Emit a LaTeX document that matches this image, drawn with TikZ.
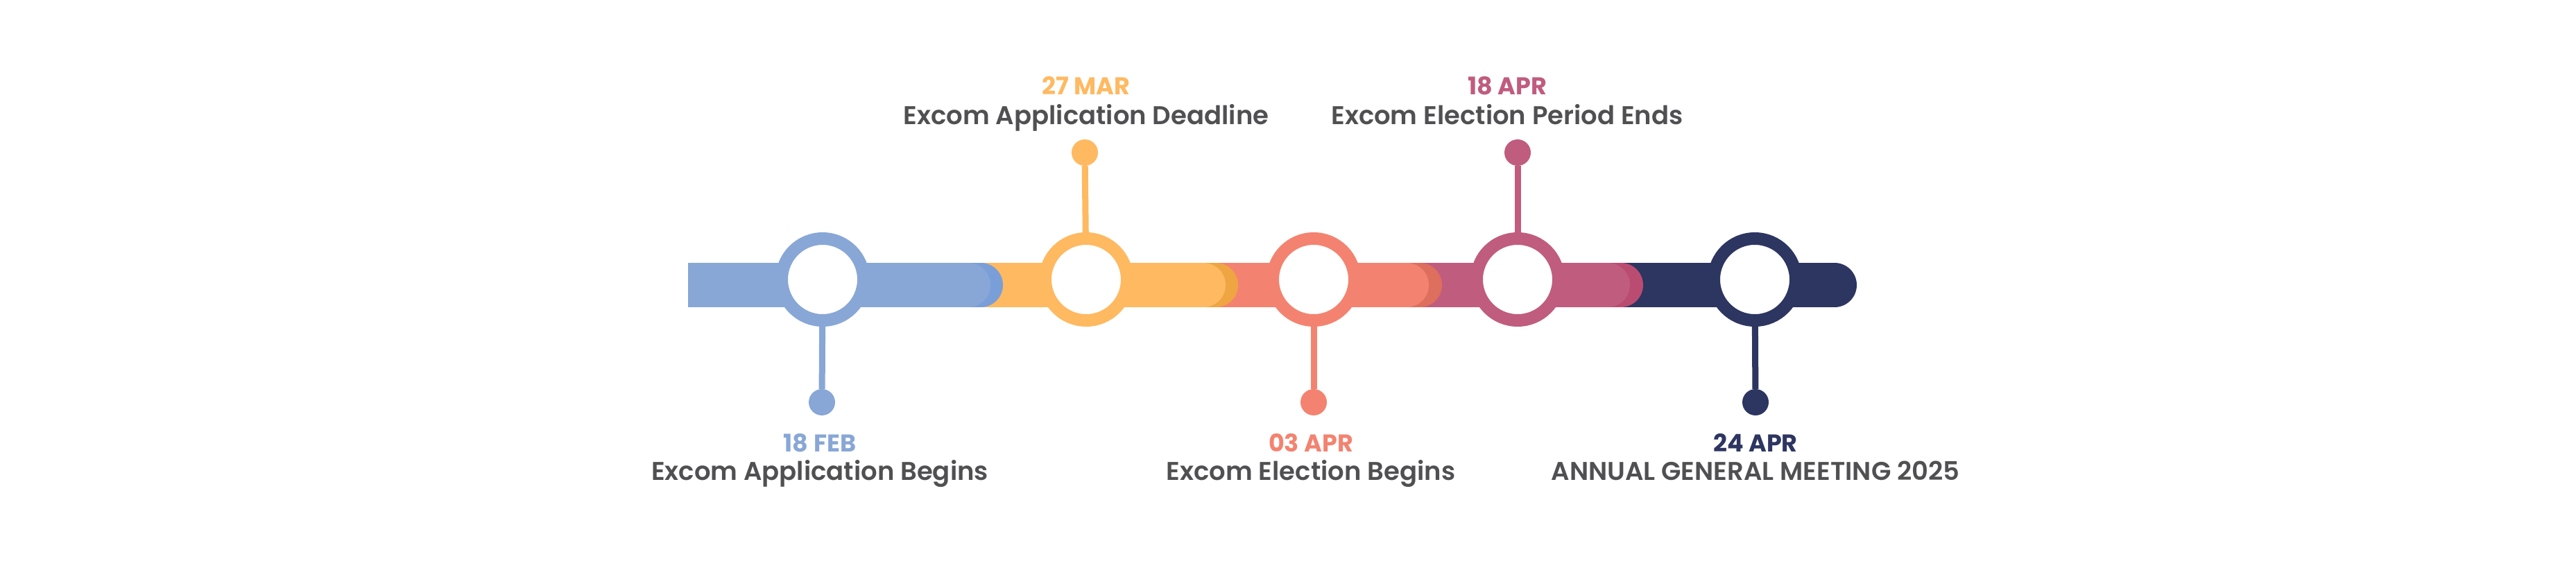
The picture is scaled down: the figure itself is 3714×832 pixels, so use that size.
\documentclass[tikz,border=0pt]{standalone}
\usepackage{fontspec}
\newfontfamily\datefont{Poppins Bold}
\newfontfamily\titlefont{Poppins SemiBold}
\definecolor{cblue}{HTML}{88A7D6}
\definecolor{cbluedk}{HTML}{7A9ED8}
\definecolor{corange}{HTML}{FFB961}
\definecolor{corangedk}{HTML}{EFA542}
\definecolor{csalmon}{HTML}{F38370}
\definecolor{csalmondk}{HTML}{DE6E5E}
\definecolor{cpink}{HTML}{C05C7E}
\definecolor{cpinkdk}{HTML}{BA4C72}
\definecolor{cnavy}{HTML}{2D3561}
\definecolor{tgray}{HTML}{505052}
\begin{document}
\begin{tikzpicture}[x=1pt,y=-1pt,
 bar/.style={line width=64pt, line cap=round},
 ring/.style={circle, draw=#1, line width=18pt, fill=white, minimum size=118pt, inner sep=0pt, outer sep=0pt},
 dot/.style={circle, fill=#1, minimum size=38pt, inner sep=0pt, outer sep=0pt},
 stem/.style={draw=#1, line width=9pt},
 datelbl/.style={anchor=base, text=#1, font=\datefont\fontsize{35}{40}\selectfont, inner sep=0pt},
 titlelbl/.style={anchor=base, text=tgray, font=\titlefont\fontsize{37}{40}\selectfont, inner sep=0pt}]
\useasboundingbox (0,0) rectangle (3714,832);
% bars, back to front
\draw[bar, cnavy] (2300,411) -- (2645,411);
\draw[bar, cpinkdk] (2000,411) -- (2337,411);
\draw[bar, cpink] (2000,411) -- (2318,411);
\draw[bar, csalmondk] (1700,411) -- (2047,411);
\draw[bar, csalmon] (1700,411) -- (2028,411);
\draw[bar, corangedk] (1380,411) -- (1753,411);
\draw[bar, corange] (1380,411) -- (1735,411);
\draw[bar, cbluedk] (1100,411) -- (1414,411);
\draw[bar, cblue] (1100,411) -- (1396,411);
\fill[cblue] (992,379) rectangle (1110,443);
% milestones
\node[ring=cblue] (c1) at (1186,403) {};
\node[ring=corange] (c2) at (1566,403) {};
\node[ring=csalmon] (c3) at (1894,403) {};
\node[ring=cpink] (c4) at (2188,403) {};
\node[ring=cnavy] (c5) at (2530,403) {};
\node[dot=cblue] (d1) at (1185,580) {};
\node[dot=corange] (d2) at (1564,220) {};
\node[dot=csalmon] (d3) at (1894,580) {};
\node[dot=cpink] (d4) at (2188,220) {};
\node[dot=cnavy] (d5) at (2531,580) {};
\draw[stem=cblue] (c1) -- (d1);
\draw[stem=corange] (c2) -- (d2);
\draw[stem=csalmon] (c3) -- (d3);
\draw[stem=cpink] (c4) -- (d4);
\draw[stem=cnavy] (c5) -- (d5);
% labels
\node[datelbl=corange] (t2) at (1566,136) {27 MAR};
\node[titlelbl] (s2) at (1566,179) {Excom Application Deadline};
\node[datelbl=cpink] (t4) at (2173,136) {18 APR};
\node[titlelbl] (s4) at (2173,179) {Excom Election Period Ends};
\node[datelbl=cblue] (t1) at (1182,651) {18 FEB};
\node[titlelbl] (s1) at (1182,692) {Excom Application Begins};
\node[datelbl=csalmon] (t3) at (1890,651) {03 APR};
\node[titlelbl] (s3) at (1890,692) {Excom Election Begins};
\node[datelbl=cnavy] (t5) at (2531,651) {24 APR};
\node[titlelbl] (s5) at (2531,692) {ANNUAL GENERAL MEETING 2025};
\end{tikzpicture}
\end{document}
